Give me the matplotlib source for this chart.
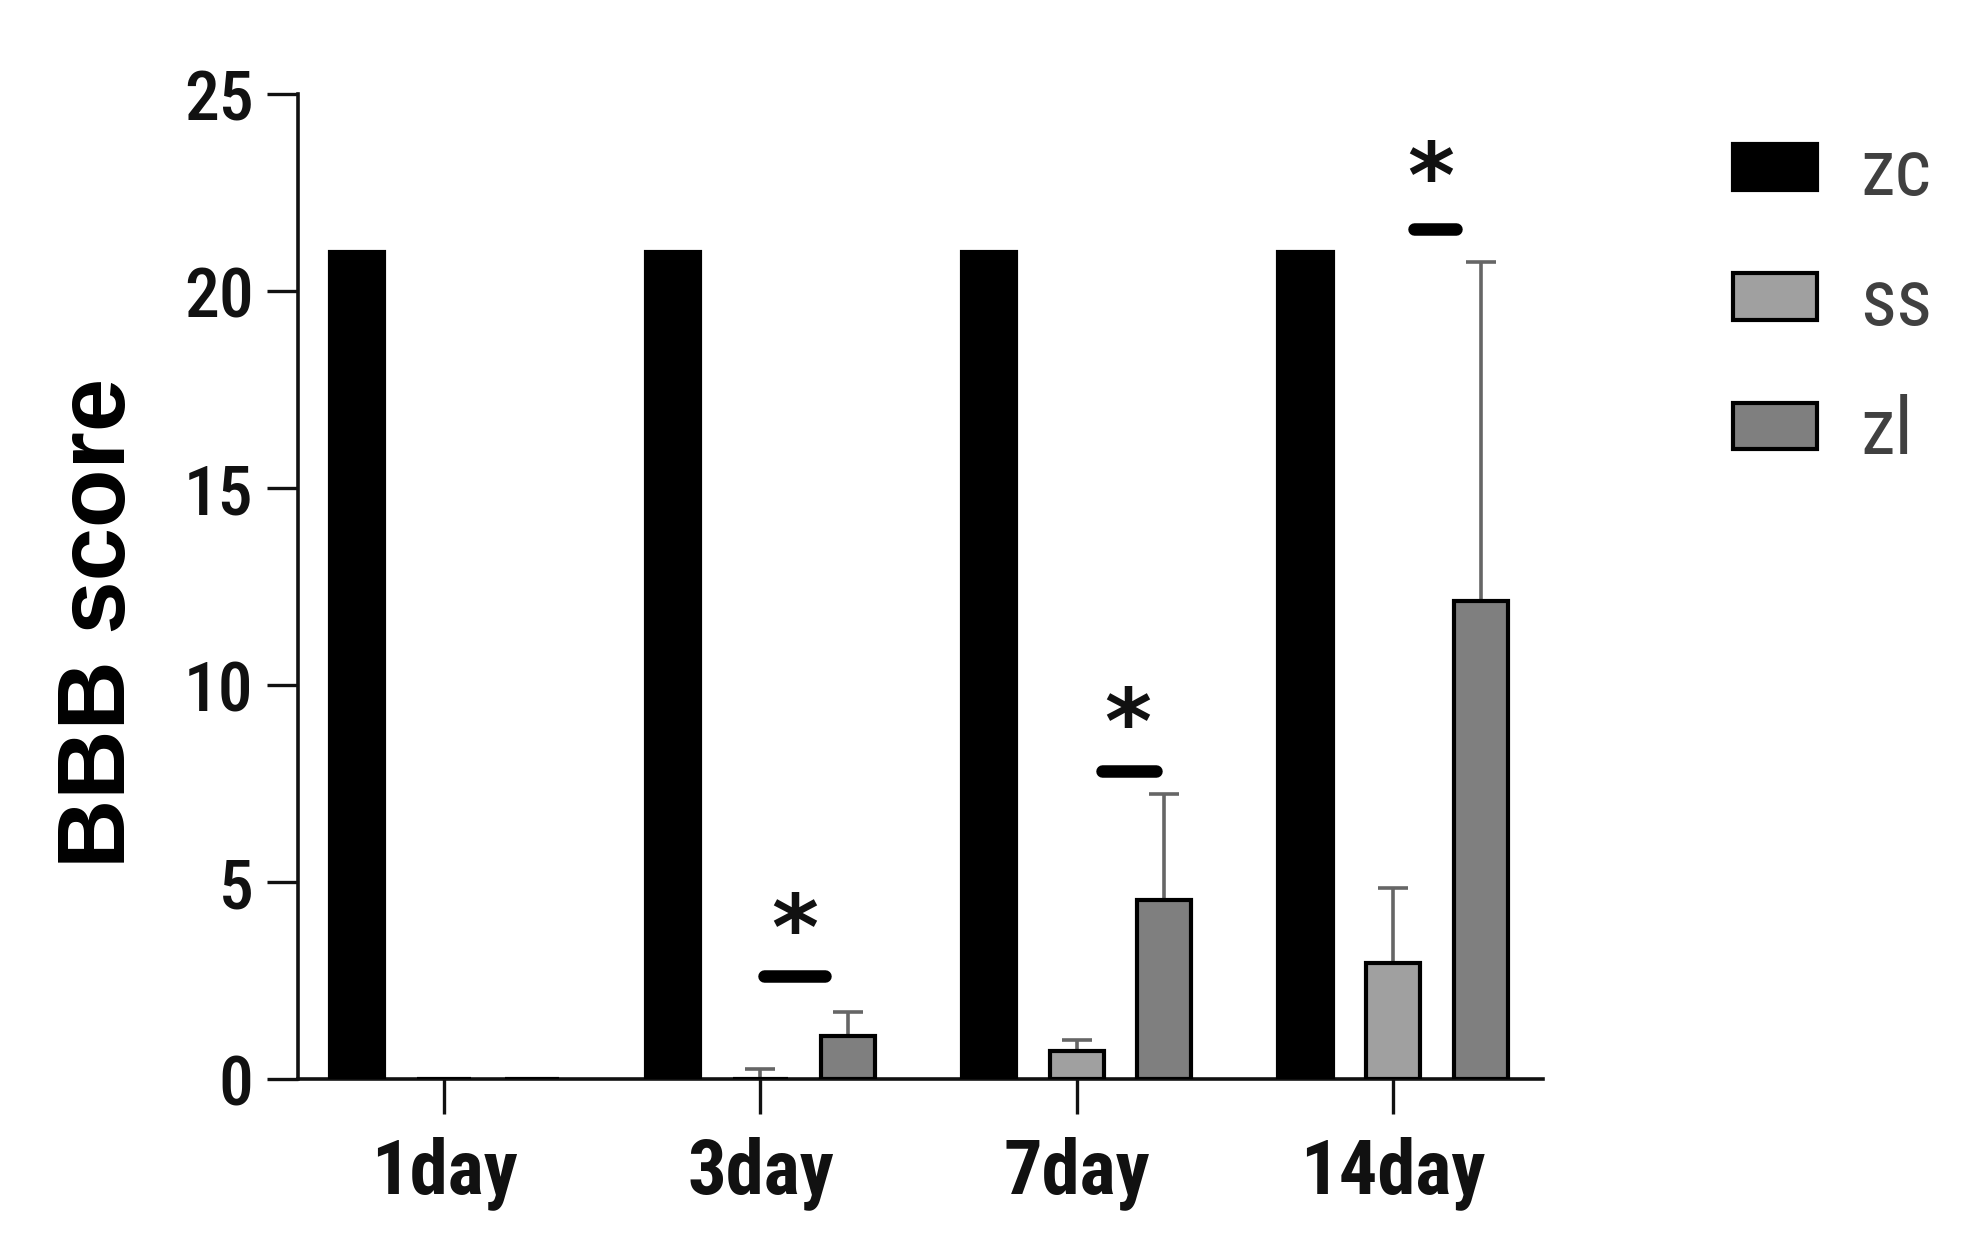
import matplotlib
matplotlib.use("Agg")
import matplotlib.pyplot as plt
from matplotlib.textpath import TextPath
from matplotlib.font_manager import FontProperties
import numpy as np

# ---- data ----
categories = ["1day", "3day", "7day", "14day"]
series = ["zc", "ss", "zl"]
zc_mean = [21.0, 21.0, 21.0, 21.0]
ss_mean = [0.0, 0.0, 0.7, 2.95]
zl_mean = [0.0, 1.1, 4.55, 12.15]
zc_err = [0.0, 0.0, 0.0, 0.0]
ss_err = [0.0, 0.25, 0.3, 1.9]
zl_err = [0.0, 0.6, 2.7, 8.6]
yticks = [0, 5, 10, 15, 20, 25]

# significance annotations: group index, line start/end offset, line y, star y
sig_group = [1, 2, 3]
sig_x0 = [0.01, 0.08, 0.065]
sig_x1 = [0.205, 0.25, 0.20]
sig_y = [2.62, 7.83, 21.58]
star_x = [0.108, 0.16, 0.12]
star_y = [4.22, 9.43, 23.3]

colors = ["#000000", "#a0a0a0", "#7f7f7f"]

COND = ["Roboto Condensed", "Liberation Sans", "DejaVu Sans"]
WIDE = ["Liberation Sans", "DejaVu Sans"]

fig = plt.figure(figsize=(19.75, 12.48), dpi=100)
ax = fig.add_axes([0.1509, 0.1354, 0.6304, 0.7889])

x = np.arange(len(categories))
offs = [-0.277, 0.0, 0.277]
width = 0.171
means = [zc_mean, ss_mean, zl_mean]
errs = [zc_err, ss_err, zl_err]
handles = []
for i, name in enumerate(series):
    m = np.array(means[i])
    e = np.array(errs[i])
    bars = ax.bar(x + offs[i], m, width, color=colors[i], edgecolor="black",
                  linewidth=3.0, label=name, zorder=3)
    handles.append(bars)
    mask = e > 0
    if mask.any():
        ax.errorbar((x + offs[i])[mask], m[mask],
                    yerr=[np.zeros(mask.sum()), e[mask]],
                    fmt="none", ecolor="#666666", elinewidth=2.6,
                    capsize=11, capthick=2.6, zorder=2)

# star glyph: centre it exactly on (x, y) and size it to ~30pt tall
star_prop = FontProperties(family="DejaVu Sans", weight="bold")
ref = TextPath((0, 0), "*", size=100, prop=star_prop).get_extents()
STAR_FS = 100 * 30.0 / ref.height
ext = TextPath((0, 0), "*", size=STAR_FS, prop=star_prop).get_extents()
cx = (ext.x0 + ext.x1) / 2
cy = (ext.y0 + ext.y1) / 2

for g, a0, a1, yy, sx, sy in zip(sig_group, sig_x0, sig_x1, sig_y, star_x, star_y):
    ax.plot([x[g] + a0, x[g] + a1], [yy, yy], color="black", lw=9,
            solid_capstyle="round", zorder=4)
    ax.annotate("*", xy=(x[g] + sx, sy), xytext=(-cx, -cy),
                textcoords="offset points", ha="left", va="baseline",
                fontproperties=FontProperties(family="DejaVu Sans",
                                              weight="bold", size=STAR_FS),
                color="#111111")

ax.set_xlim(-0.462, 3.474)
ax.set_ylim(0, 25)
ax.set_yticks(yticks)
ax.set_yticklabels([str(t) for t in yticks], family=COND, fontsize=50,
                   fontweight="medium")
ax.set_xticks(x)
ax.set_xticklabels(categories, family=COND, fontsize=55, fontweight="bold")
ax.tick_params(axis="y", length=22, width=2.4, pad=10, colors="#111111")
ax.tick_params(axis="x", length=25, width=2.4, pad=16, colors="#111111")

for s in ["top", "right"]:
    ax.spines[s].set_visible(False)
for s in ["left", "bottom"]:
    ax.spines[s].set_linewidth(2.6)
    ax.spines[s].set_color("#111111")

ax.set_ylabel("BBB score", family=WIDE, fontsize=69, fontweight="bold")
ax.yaxis.set_label_coords(-0.123, 0.463)

leg = fig.legend(handles=handles, labels=series, loc="upper left",
                 bbox_to_anchor=(0.8775, 0.892), frameon=False,
                 prop={"family": COND, "size": 57},
                 handlelength=1.06, handleheight=0.52, handletextpad=0.55,
                 labelspacing=0.68, borderpad=0, borderaxespad=0)
for t in leg.get_texts():
    t.set_color("#404040")

fig.savefig("out.png", dpi=100)
